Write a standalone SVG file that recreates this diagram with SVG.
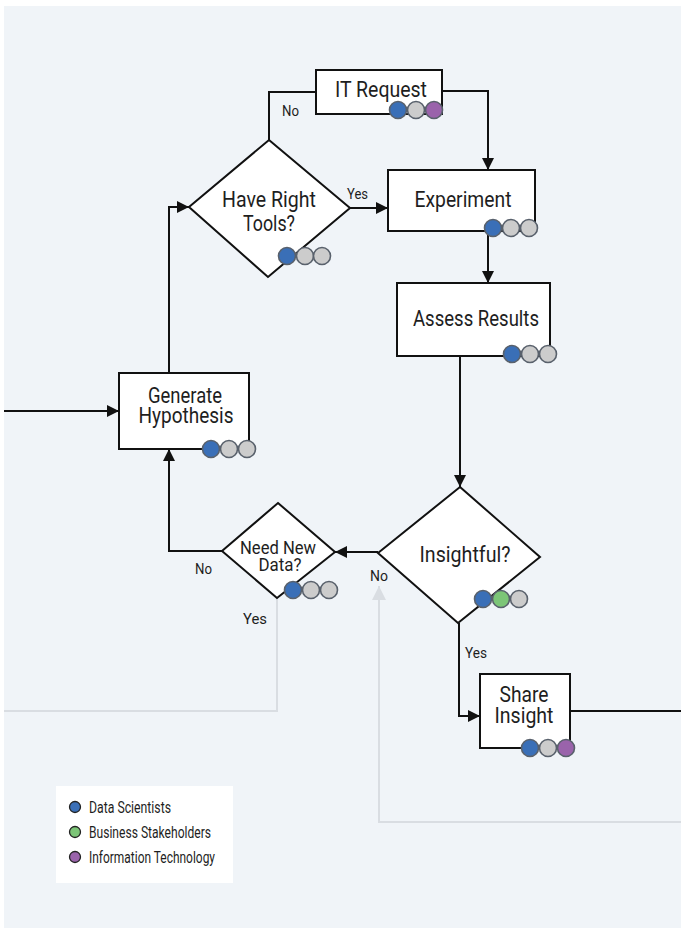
<svg xmlns="http://www.w3.org/2000/svg" width="681" height="928" viewBox="0 0 681 928">
<defs>
<style>
.bg{fill:#f0f4f8}
.box{fill:#ffffff;stroke:#111111;stroke-width:2}
.ln{fill:none;stroke:#111111;stroke-width:2}
.gl{fill:none;stroke:#d9dde2;stroke-width:2}
.t{font-family:"Roboto","Liberation Sans",sans-serif;font-size:22px;fill:#1e1e1e;text-anchor:middle}
.ts{font-family:"Roboto","Liberation Sans",sans-serif;font-size:19px;fill:#1e1e1e;text-anchor:middle}
.lab{font-family:"Roboto","Liberation Sans",sans-serif;font-size:15.5px;fill:#1e1e1e}
.leg{font-family:"Roboto","Liberation Sans",sans-serif;font-size:17px;fill:#1e1e1e}
.c{stroke:#59616c;stroke-width:1.6}
.b{fill:#3a6fb7}
.g{fill:#cccccc}
.gr{fill:#7cc577}
.p{fill:#9a63ab}
.lc{stroke:#222;stroke-width:1.3}
</style>
<marker id="arr" viewBox="0 0 12 12" refX="12" refY="6" markerWidth="12" markerHeight="12" markerUnits="userSpaceOnUse" orient="auto"><path d="M0,0 L12,6 L0,12 z" fill="#111111"/></marker>
<marker id="garr" viewBox="0 0 14 14" refX="14" refY="7" markerWidth="14" markerHeight="14" markerUnits="userSpaceOnUse" orient="auto"><path d="M0,0 L14,7 L0,14 z" fill="#d9dde2"/></marker>
</defs>
<rect x="0" y="0" width="681" height="928" fill="#ffffff"/>
<rect class="bg" x="4" y="6" width="677" height="922"/>

<g id="connectors">
<path class="gl" d="M277,598 V711 H4"/>
<path class="gl" d="M681,822 H379 V586" marker-end="url(#garr)"/>
<path class="ln" d="M4,411 H119" marker-end="url(#arr)"/>
<path class="ln" d="M169,373 V207 H189" marker-end="url(#arr)"/>
<path class="ln" d="M269,140 V92 H316"/>
<path class="ln" d="M350,208 H388" marker-end="url(#arr)"/>
<path class="ln" d="M442,91 H488 V170" marker-end="url(#arr)"/>
<path class="ln" d="M488,231 V283" marker-end="url(#arr)"/>
<path class="ln" d="M460,356 V487" marker-end="url(#arr)"/>
<path class="ln" d="M378,552 H335" marker-end="url(#arr)"/>
<path class="ln" d="M222,551 H169 V449" marker-end="url(#arr)"/>
<path class="ln" d="M459,623 V716 H480" marker-end="url(#arr)"/>
<path class="ln" d="M570,711 H681"/>
<text class="lab" x="282" y="116" textLength="17" lengthAdjust="spacingAndGlyphs">No</text>
<text class="lab" x="347" y="199" textLength="21" lengthAdjust="spacingAndGlyphs">Yes</text>
<text class="lab" x="195" y="574" textLength="17" lengthAdjust="spacingAndGlyphs">No</text>
<text class="lab" x="370" y="581" textLength="18" lengthAdjust="spacingAndGlyphs">No</text>
<text class="lab" x="243" y="624" textLength="24" lengthAdjust="spacingAndGlyphs">Yes</text>
<text class="lab" x="465" y="658" textLength="22" lengthAdjust="spacingAndGlyphs">Yes</text>
</g>

<g id="it-request">
<rect class="box" x="316" y="70" width="126" height="44"/>
<text class="t" x="381" y="97" textLength="92" lengthAdjust="spacingAndGlyphs">IT Request</text>
<circle class="c b" cx="398" cy="110" r="8.5"/>
<circle class="c g" cx="416" cy="110" r="8.5"/>
<circle class="c p" cx="434" cy="110" r="8.5"/>
</g>

<g id="have-right-tools">
<polygon class="box" points="269,140 350,208 268,277 189,207"/>
<text class="t"><tspan x="269" y="207" textLength="94" lengthAdjust="spacingAndGlyphs">Have Right</tspan><tspan x="269" y="231" textLength="52" lengthAdjust="spacingAndGlyphs">Tools?</tspan></text>
<circle class="c b" cx="287" cy="256" r="8.5"/>
<circle class="c g" cx="305" cy="256" r="8.5"/>
<circle class="c g" cx="322" cy="256" r="8.5"/>
</g>

<g id="experiment">
<rect class="box" x="388" y="170" width="147" height="61"/>
<text class="t" x="463" y="207" textLength="97" lengthAdjust="spacingAndGlyphs">Experiment</text>
<circle class="c b" cx="493" cy="228" r="8.5"/>
<circle class="c g" cx="511" cy="228" r="8.5"/>
<circle class="c g" cx="529" cy="228" r="8.5"/>
</g>

<g id="assess-results">
<rect class="box" x="397" y="283" width="153" height="73"/>
<text class="t" x="476" y="326" textLength="126" lengthAdjust="spacingAndGlyphs">Assess Results</text>
<circle class="c b" cx="512" cy="354" r="8.5"/>
<circle class="c g" cx="530" cy="354" r="8.5"/>
<circle class="c g" cx="548" cy="354" r="8.5"/>
</g>

<g id="generate-hypothesis">
<rect class="box" x="119" y="373" width="130" height="76"/>
<text class="t"><tspan x="185" y="403" textLength="74" lengthAdjust="spacingAndGlyphs">Generate</tspan><tspan x="186" y="423" textLength="95" lengthAdjust="spacingAndGlyphs">Hypothesis</tspan></text>
<circle class="c b" cx="211" cy="449" r="8.5"/>
<circle class="c g" cx="229" cy="449" r="8.5"/>
<circle class="c g" cx="247" cy="449" r="8.5"/>
</g>

<g id="insightful">
<polygon class="box" points="460,487 540,557 458,623 378,553"/>
<text class="t" x="465" y="562" textLength="91" lengthAdjust="spacingAndGlyphs">Insightful?</text>
<circle class="c b" cx="483" cy="599" r="8.5"/>
<circle class="c gr" cx="501" cy="599" r="8.5"/>
<circle class="c g" cx="519" cy="599" r="8.5"/>
</g>

<g id="need-new-data">
<polygon class="box" points="278,503 335,552 277,598 222,551"/>
<text class="ts"><tspan x="278" y="554" textLength="76" lengthAdjust="spacingAndGlyphs">Need New</tspan><tspan x="280" y="571" textLength="43" lengthAdjust="spacingAndGlyphs">Data?</tspan></text>
<circle class="c b" cx="293" cy="590" r="8.5"/>
<circle class="c g" cx="311" cy="590" r="8.5"/>
<circle class="c g" cx="329" cy="590" r="8.5"/>
</g>

<g id="share-insight">
<rect class="box" x="480" y="674" width="90" height="74"/>
<text class="t"><tspan x="524" y="702" textLength="49" lengthAdjust="spacingAndGlyphs">Share</tspan><tspan x="524" y="723" textLength="59" lengthAdjust="spacingAndGlyphs">Insight</tspan></text>
<circle class="c b" cx="530" cy="748" r="8.5"/>
<circle class="c g" cx="548" cy="748" r="8.5"/>
<circle class="c p" cx="566" cy="748" r="8.5"/>
</g>

<g id="legend">
<rect x="56" y="786" width="177" height="97" fill="#ffffff"/>
<circle class="lc b" cx="75" cy="807" r="5.5"/>
<text class="leg" x="89" y="813" textLength="82" lengthAdjust="spacingAndGlyphs">Data Scientists</text>
<circle class="lc gr" cx="75" cy="832" r="5.5"/>
<text class="leg" x="89" y="838" textLength="122" lengthAdjust="spacingAndGlyphs">Business Stakeholders</text>
<circle class="lc p" cx="75" cy="857" r="5.5"/>
<text class="leg" x="89" y="863" textLength="126" lengthAdjust="spacingAndGlyphs">Information Technology</text>
</g>
</svg>
